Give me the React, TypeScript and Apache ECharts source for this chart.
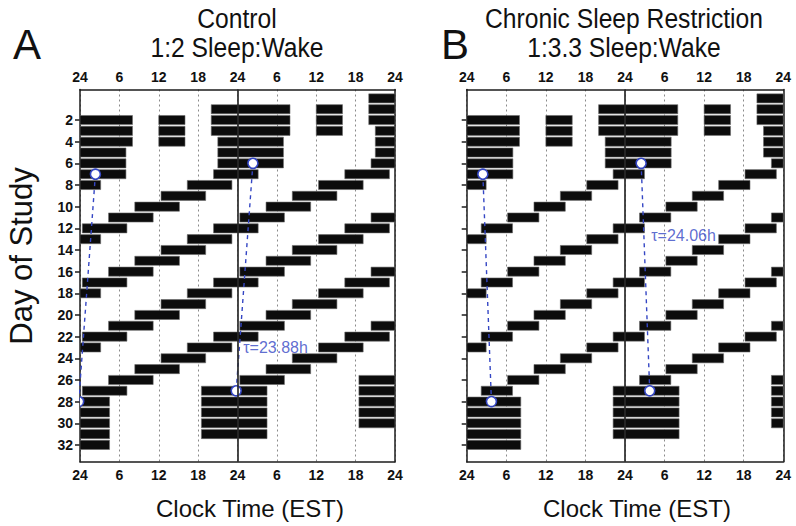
import React, { useEffect, useRef } from "react";
import * as echarts from "echarts";

// ---------- DATA ----------
// Each sleep episode: [day of study, start clock hour, end clock hour (may pass 24 = next day)]
const baselineEpisodes = [
  [1, 20, 32], [2, 12, 16], [2, 20, 32], [3, 12, 16], [3, 20, 32], [4, 12, 16],
  [4, 21, 31], [5, 21, 31], [6, 21, 31],
];
const controlFD = [
  [7, 20.35, 27.15], [8, 16.35, 23.15], [9, 12.35, 19.15], [10, 8.35, 15.15], [11, 4.35, 11.15],
  [12, 0.35, 7.15], [12, 20.35, 27.15], [13, 16.35, 23.15], [14, 12.35, 19.15], [15, 8.35, 15.15],
  [16, 4.35, 11.15], [17, 0.35, 7.15], [17, 20.35, 27.15], [18, 16.35, 23.15], [19, 12.35, 19.15],
  [20, 8.35, 15.15], [21, 4.35, 11.15], [22, 0.35, 7.15], [22, 20.35, 27.15], [23, 16.35, 23.15],
  [24, 12.35, 19.15], [25, 8.35, 15.15], [26, 4.35, 11.15], [27, 0.35, 7.15],
];
const controlRecovery = [
  [27, 18.5, 28.5], [28, 18.5, 28.5], [29, 18.5, 28.5], [30, 18.5, 28.5], [31, 18.5, 28.5],
];
const csrFD = [
  [7, 22.2, 26.95], [8, 18.2, 22.95], [9, 14.2, 18.95], [10, 10.2, 14.95], [11, 6.2, 10.95],
  [12, 2.2, 6.95], [12, 22.2, 26.95], [13, 18.2, 22.95], [14, 14.2, 18.95], [15, 10.2, 14.95],
  [16, 6.2, 10.95], [17, 2.2, 6.95], [17, 22.2, 26.95], [18, 18.2, 22.95], [19, 14.2, 18.95],
  [20, 10.2, 14.95], [21, 6.2, 10.95], [22, 2.2, 6.95], [22, 22.2, 26.95], [23, 18.2, 22.95],
  [24, 14.2, 18.95], [25, 10.2, 14.95], [26, 6.2, 10.95], [27, 2.2, 6.95],
];
const csrRecovery = [
  [27, 22.2, 32.2], [28, 22.2, 32.2], [29, 22.2, 32.2], [30, 22.2, 32.2], [31, 22.2, 32.2],
];
// phase lines (double plotted): [clock hour, day]
const controlPhaseLeft = [[2.35, 7], [-0.2, 28]];
const controlPhaseRight = [[26.35, 6], [23.8, 27]];
const csrPhaseLeft = [[2.45, 7], [3.75, 28]];
const csrPhaseRight = [[26.45, 6], [27.75, 27]];
const controlTau = "τ=23.88h";
const csrTau = "τ=24.06h";
const controlTauPos = [24.8, 23];
const csrTauPos = [27.9, 12.7];
const dayTicks = [2, 4, 6, 8, 10, 12, 14, 16, 18, 20, 22, 24, 26, 28, 30, 32];
const rowCount = 33; // rows 0..32

// ---------- helpers ----------
function doublePlot(episodes: number[][]) {
  const out: number[][] = [];
  for (const [d, s, e] of episodes) {
    const ts = (d - 1) * 24 + s;
    const te = (d - 1) * 24 + e;
    for (let r = 0; r < rowCount; r++) {
      const off = (r - 1) * 24;
      const x1 = Math.max(0, ts - off);
      const x2 = Math.min(48, te - off);
      if (x2 - x1 > 0.01) out.push([x1, x2, r]);
    }
  }
  return out;
}

const FONT = "'Liberation Sans', Arial, sans-serif";
const BLUE = "#3446c4";
const AXIS = "#1c1c1c";

function hourLabel(v: number) {
  const m = v % 24;
  return m === 0 ? "24" : String(m);
}

function xAxes(grid: number) {
  const common = {
    type: "value" as const,
    gridIndex: grid,
    min: 0,
    max: 48,
    interval: 6,
    axisLine: { show: true, onZero: false, lineStyle: { color: AXIS, width: 1.5 } },
    axisTick: { show: false },
    axisLabel: {
      formatter: hourLabel,
      fontFamily: FONT,
      fontWeight: "bold" as const,
      fontSize: 14,
      color: "#111",
      margin: 6,
    },
  };
  return [
    { ...common, position: "bottom", splitLine: { show: true, lineStyle: { color: "#8a8a8a", width: 1, type: [2, 3] } } },
    { ...common, position: "top", splitLine: { show: false } },
  ];
}

function yAxes(grid: number, labels: boolean) {
  const common = {
    type: "value" as const,
    gridIndex: grid,
    min: -0.82,
    max: 33.55,
    inverse: true,
    splitLine: { show: false },
    axisLine: { show: true, onZero: false, lineStyle: { color: AXIS, width: 1.5 } },
  };
  return [
    {
      ...common,
      position: "left",
      axisTick: { show: true, length: 5, lineStyle: { color: AXIS, width: 1.5 }, customValues: dayTicks },
      axisLabel: {
        show: labels,
        customValues: dayTicks,
        fontFamily: FONT,
        fontWeight: "bold" as const,
        fontSize: 14,
        color: "#111",
        margin: 7,
      },
    },
    { ...common, position: "right", axisTick: { show: false }, axisLabel: { show: false } },
  ];
}

function barSeries(data: number[][], xi: number, yi: number) {
  return {
    type: "custom",
    xAxisIndex: xi,
    yAxisIndex: yi,
    z: 2,
    data,
    encode: { x: [0, 1], y: 2 },
    renderItem: (params: any, api: any) => {
      const p1 = api.coord([api.value(0), api.value(2)]);
      const p2 = api.coord([api.value(1), api.value(2)]);
      const h = api.size([0, 1])[1] * 0.84;
      return {
        type: "rect",
        shape: { x: p1[0], y: p1[1] - h / 2, width: p2[0] - p1[0], height: h },
        style: { fill: "#0c0c0c", stroke: "#6a6a6a", lineWidth: 0.6 },
      };
    },
    markLine: {
      silent: true,
      symbol: ["none", "none"],
      label: { show: false },
      lineStyle: { color: "#2a2a2a", width: 1.7, type: "solid" },
      data: [{ xAxis: 24 }],
    },
  };
}

function phaseLine(data: number[][], xi: number, yi: number) {
  return {
    type: "line",
    xAxisIndex: xi,
    yAxisIndex: yi,
    z: 3,
    data,
    symbol: "none",
    clip: true,
    lineStyle: { color: BLUE, width: 1.4, type: [4, 4] },
  };
}

function circles(data: number[][], xi: number, yi: number) {
  return {
    type: "custom",
    xAxisIndex: xi,
    yAxisIndex: yi,
    z: 4,
    clip: true,
    data,
    encode: { x: 0, y: 1 },
    renderItem: (params: any, api: any) => {
      const p = api.coord([api.value(0), api.value(1)]);
      return {
        type: "circle",
        shape: { cx: p[0], cy: p[1], r: 5 },
        style: { fill: "#ffffff", stroke: BLUE, lineWidth: 1.6 },
      };
    },
  };
}

function tauLabel(pos: number[], text: string, xi: number, yi: number) {
  return {
    type: "scatter",
    xAxisIndex: xi,
    yAxisIndex: yi,
    z: 5,
    symbolSize: 1,
    itemStyle: { color: "rgba(0,0,0,0)" },
    data: [pos],
    label: {
      show: true,
      position: "right",
      distance: 0,
      formatter: text,
      color: BLUE,
      fontSize: 16,
      fontFamily: FONT,
    },
  };
}

export default function App() {
  const ref = useRef<HTMLDivElement>(null);
  useEffect(() => {
    if (!ref.current) return;
    const chart = echarts.init(ref.current, undefined, { renderer: "svg" });
    const barsA = doublePlot([...baselineEpisodes, ...controlFD, ...controlRecovery]);
    const barsB = doublePlot([...baselineEpisodes, ...csrFD, ...csrRecovery]);
    const txt = (text: string, x: number, y: number, size: number, sx = 1) => ({
      type: "text",
      x,
      y,
      scaleX: sx,
      style: { text, fontSize: size, fontFamily: FONT, fill: "#111", textAlign: "center", textVerticalAlign: "middle" },
    });
    chart.setOption({
      animation: false,
      backgroundColor: "#ffffff",
      grid: [
        { left: 80, top: 89.5, width: 315, height: 372.2 },
        { left: 466.7, top: 89.5, width: 316.6, height: 372.2 },
      ],
      xAxis: [...xAxes(0), ...xAxes(1)],
      yAxis: [...yAxes(0, true), ...yAxes(1, false)],
      series: [
        barSeries(barsA, 0, 0),
        barSeries(barsB, 2, 2),
        phaseLine(controlPhaseLeft, 0, 0),
        phaseLine(controlPhaseRight, 0, 0),
        phaseLine(csrPhaseLeft, 2, 2),
        phaseLine(csrPhaseRight, 2, 2),
        circles([...controlPhaseLeft, ...controlPhaseRight], 0, 0),
        circles([...csrPhaseLeft, ...csrPhaseRight], 2, 2),
        tauLabel(controlTauPos, controlTau, 0, 0),
        tauLabel(csrTauPos, csrTau, 2, 2),
      ],
      graphic: [
        txt("A", 27, 44, 42),
        txt("B", 455, 44, 42),
        txt("Control", 237, 18, 28, 0.88),
        txt("1:2 Sleep:Wake", 237, 47, 28, 0.88),
        txt("Chronic Sleep Restriction", 624, 18, 28, 0.88),
        txt("1:3.3 Sleep:Wake", 624, 47, 28, 0.88),
        txt("Clock Time (EST)", 250, 508, 24),
        txt("Clock Time (EST)", 637, 508, 24),
        {
          type: "text",
          x: 21,
          y: 256,
          rotation: Math.PI / 2,
          style: { text: "Day of Study", fontSize: 31, fontFamily: FONT, fill: "#111", textAlign: "center", textVerticalAlign: "middle" },
        },
      ],
    });
    return () => chart.dispose();
  }, []);
  return <div ref={ref} style={{ position: "fixed", left: 0, top: 0, width: 796, height: 526 }} />;
}
